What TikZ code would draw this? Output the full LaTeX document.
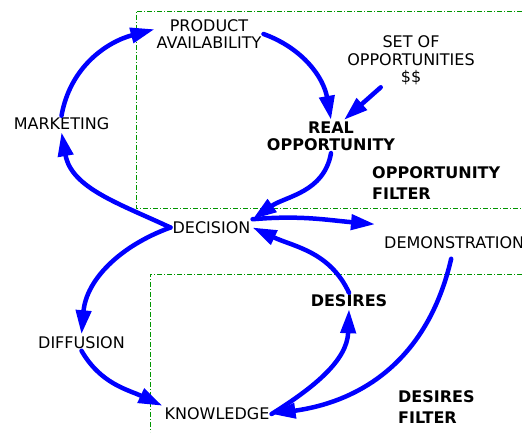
\documentclass[tikz,border=0pt]{standalone}
\usepackage{fontspec}
\setmainfont{DejaVu Sans}
\usetikzlibrary{arrows.meta}

\definecolor{fgreen}{RGB}{0,150,0}
\tikzset{ar/.style={draw=blue, line width=4.5pt, line cap=round, -{Triangle[length=24pt,width=15pt]}}}
\tikzset{fb/.style={draw=fgreen, line width=0.8pt, dash pattern=on 5pt off 2pt on 1pt off 2pt}}

\begin{document}
\begin{tikzpicture}[x=1pt, y=1pt]
\tikzstyle{every node}=[inner sep=2pt, text=black, align=center, font=\fontsize{16}{17.5}\selectfont]
\tikzstyle{bf}=[font=\fontsize{16}{17}\selectfont\bfseries]
\tikzstyle{ft}=[font=\fontsize{16}{21}\selectfont\bfseries, anchor=west, align=left]
\useasboundingbox (0,0) rectangle (522,432);

% the two filters
\draw[fb] (522,421) -- (136,421) -- (136,224) -- (522,224);
\draw[fb] (522,158) -- (150,158) -- (150,0);

\node (prod)  at (209,398)   {PRODUCT\\AVAILABILITY};
\node (setop) at (411,371.5) {SET OF\\OPPORTUNITIES\\\$\$};
\node[bf] (real) at (331,295.5) {REAL\\OPPORTUNITY};
\node[ft] (ofilt) at (370,249) {OPPORTUNITY\\FILTER};
\node (mkt)   at (61.5,308)  {MARKETING};
\node (dec)   at (211.5,204.5) {DECISION};
\node[anchor=west] (demo) at (382,189.5) {DEMONSTRATION};
\node[bf] (des) at (349,131) {DESIRES};
\node[ft] (dfilt) at (396,24.5) {DESIRES\\FILTER};
\node (dif)   at (81.5,89.5) {DIFFUSION};
\node (know)  at (217,18)    {KNOWLEDGE};

\draw[ar] (mkt.north) to[out=80, in=195] (prod.175);
\draw[ar] (dec.west) to[out=155, in=-80] (mkt.south);
\draw[ar] (prod.east) to[out=-20, in=100] (real.north);
\draw[ar] (setop) -- (real.52);
\draw[ar] (real.south) to[out=-100, in=35] (dec.north east);
\draw[ar] (dec.north east) to[out=5, in=175] ([shift={(-7,10)}]demo.north west);
\draw[ar] (des.north) to[out=115, in=-25] (dec.east);
\draw[ar] ([shift={(-3,-8)}]demo.south) to[out=-103, in=8, looseness=1.05] (know.east);
\draw[ar] (know.east) to[out=32, in=-92] (des.south);
\draw[ar] (dec.west) to[out=200, in=85] (dif.north);
\draw[ar] (dif.south) to[out=-60, in=155] (know.north west);
\end{tikzpicture}
\end{document}
